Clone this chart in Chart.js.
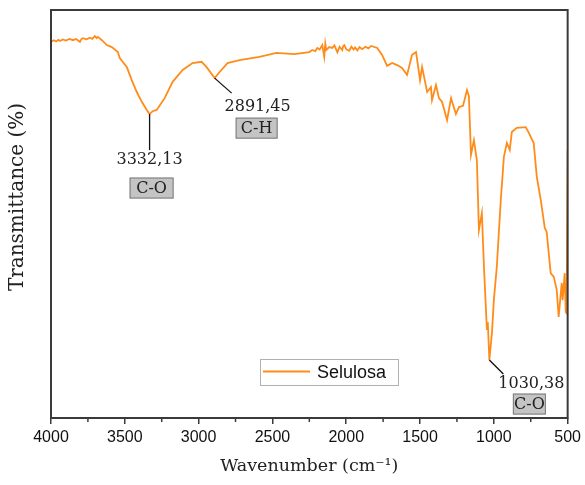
<!DOCTYPE html>
<html>
<head>
<meta charset="utf-8">
<script src="https://cdn.jsdelivr.net/npm/chart.js@4.4.1/dist/chart.umd.min.js"></script>
<style>
  body { margin: 0; background: #fff; }
  canvas { display: block; }
</style>
</head>
<body>
<canvas id="ftir" width="585" height="485"></canvas>
<script>
// FTIR spectrum of cellulose
const wavenumber = [
  4000, 3980, 3966, 3950, 3939, 3920, 3899, 3875, 3851, 3830,
  3804, 3795, 3784, 3760, 3736, 3720, 3703, 3690, 3682,
  3655, 3622, 3588, 3547, 3534, 3486, 3453, 3419, 3385, 3351,
  3332.13, 3311, 3284, 3230, 3176, 3108, 3041, 2980, 2946, 2891.45,
  2858, 2804, 2723, 2588, 2473, 2351, 2250, 2230, 2210, 2196,
  2180, 2162, 2155, 2149, 2142, 2135, 2115, 2095, 2080, 2060,
  2045, 2027, 2020, 2013, 2000, 1980, 1965, 1950, 1940, 1925,
  1910, 1892, 1870, 1850, 1831, 1790,
  1757, 1723, 1689, 1655, 1622, 1588, 1554, 1527, 1500, 1486,
  1452, 1426, 1419, 1392, 1372, 1351, 1317, 1290, 1257, 1236,
  1209, 1182, 1169, 1155, 1135, 1115, 1101, 1081, 1067, 1047,
  1041, 1030.38, 1013, 1000, 980, 953, 932, 912, 892, 878,
  845, 784, 763, 730, 709, 682, 655, 642, 615, 594,
  574, 561, 540, 534, 520, 513, 507, 500
];
const transmittance = [
  92.2, 92.6, 92.3, 92.7, 92.4, 92.8, 92.5, 92.9, 92.6, 92.9,
  92.2, 92.8, 93.1, 92.8, 93.2, 92.9, 93.6, 93.1, 93.4,
  92.6, 91.4, 90.9, 89.7, 88.2, 86.0, 82.8, 79.9, 77.5, 75.5,
  74.5, 75.2, 75.5, 78.4, 82.4, 85.3, 87.0, 87.3, 86.0, 83.3,
  84.8, 87.0, 87.7, 88.5, 89.5, 89.2, 89.7, 90.2, 89.9, 90.7,
  90.3, 91.4, 89.8, 88.5, 91.8, 90.2, 90.9, 90.7, 91.3, 89.6,
  91.0, 90.2, 91.2, 91.4, 90.4, 90.0, 91.0, 90.3, 90.8, 90.1,
  90.9, 90.4, 91.0, 90.6, 91.2, 90.7,
  89.0, 86.3, 87.0, 86.5, 85.8, 84.1, 89.0, 89.7, 82.8, 86.0,
  79.9, 81.1, 77.9, 81.6, 78.4, 77.5, 73.0, 78.4, 74.5, 76.2,
  76.5, 80.4, 78.9, 64.5, 68.1, 63.2, 46.1, 50.2, 37.0, 21.6,
  23.5, 14.2, 20.8, 28.9, 37.0, 53.4, 64.0, 67.4, 65.7, 70.1,
  71.1, 71.3, 69.9, 67.4, 59.1, 53.4, 46.6, 45.6, 35.5, 34.6,
  31.4, 24.8, 33.1, 28.9, 35.5, 26.0, 25.7, 65.7
];
const xTicks = [4000, 3500, 3000, 2500, 2000, 1500, 1000, 500];
const minorTicks = [3750, 3250, 2750, 2250, 1750, 1250, 750];

// labelled bands: wavenumber, bond, offsets of leader line end, value text and bond box
const peaks = [
  { wn: 3332.13, bond: 'C-O', line: [0, 36], text: [0, 46], box: [2, 74], w: 44 },
  { wn: 2891.45, bond: 'C-H', line: [17, 15], text: [43, 29], box: [42, 50], w: 42 },
  { wn: 1030.38, bond: 'C-O', line: [14, 14], text: [42, 24], box: [40, 44], w: 33 }
];

const serif = '"DejaVu Serif", serif';
const sans = '"Liberation Sans", Arial, sans-serif';

const points = wavenumber.map((w, i) => ({ x: w, y: transmittance[i] }));

const decorations = {
  id: 'decorations',
  afterDraw(chart) {
    const { ctx, chartArea: a, scales: { x, y } } = chart;
    ctx.save();

    // frame
    ctx.strokeStyle = '#3a3a3a';
    ctx.lineWidth = 2;
    ctx.strokeRect(a.left, a.top, a.right - a.left, a.bottom - a.top);

    // minor ticks
    ctx.lineWidth = 1.5;
    minorTicks.forEach(v => {
      const px = x.getPixelForValue(v);
      ctx.beginPath();
      ctx.moveTo(px, a.bottom);
      ctx.lineTo(px, a.bottom + 4);
      ctx.stroke();
    });

    // y axis title, sitting a little above the middle of the frame
    ctx.save();
    ctx.translate(18, 197);
    ctx.rotate(-Math.PI / 2);
    ctx.font = '20px ' + serif;
    ctx.fillStyle = '#222';
    ctx.textAlign = 'center';
    ctx.textBaseline = 'middle';
    ctx.fillText('Transmittance (%)', 0, 0);
    ctx.restore();

    // band labels
    peaks.forEach(p => {
      const i = wavenumber.indexOf(p.wn);
      const px = x.getPixelForValue(p.wn);
      const py = y.getPixelForValue(transmittance[i]);
      ctx.strokeStyle = '#111';
      ctx.lineWidth = 1.3;
      ctx.beginPath();
      ctx.moveTo(px, py);
      ctx.lineTo(px + p.line[0], py + p.line[1]);
      ctx.stroke();

      ctx.font = '16px ' + serif;
      ctx.fillStyle = '#222';
      ctx.textAlign = 'center';
      ctx.textBaseline = 'middle';
      ctx.fillText(p.wn.toFixed(2).replace('.', ','), px + p.text[0], py + p.text[1]);

      const bh = 21;
      const bx = px + p.box[0] - p.w / 2;
      const by = py + p.box[1] - bh / 2;
      ctx.fillStyle = '#c4c4c4';
      ctx.fillRect(bx, by, p.w, bh);
      ctx.strokeStyle = '#7a7a7a';
      ctx.lineWidth = 1;
      ctx.strokeRect(bx + 0.5, by + 0.5, p.w - 1, bh - 1);
      ctx.fillStyle = '#222';
      ctx.fillText(p.bond, px + p.box[0], py + p.box[1] + 1);
    });

    // legend box
    const ds = chart.data.datasets[0];
    const lx = a.left + 209, ly = a.top + 349, lw = 138, lh = 26;
    ctx.strokeStyle = '#b0b0b0';
    ctx.lineWidth = 1;
    ctx.strokeRect(lx + 0.5, ly + 0.5, lw, lh);
    ctx.strokeStyle = ds.borderColor;
    ctx.lineWidth = 2;
    ctx.beginPath();
    ctx.moveTo(lx + 3, ly + 12.5);
    ctx.lineTo(lx + 50, ly + 12.5);
    ctx.stroke();
    ctx.font = '18px ' + sans;
    ctx.fillStyle = '#111';
    ctx.textAlign = 'left';
    ctx.fillText(ds.label, lx + 57, ly + 14);

    ctx.restore();
  }
};

new Chart(document.getElementById('ftir'), {
  type: 'line',
  data: {
    datasets: [{
      label: 'Selulosa',
      data: points,
      borderColor: '#ff8c1a',
      borderWidth: 1.8,
      pointRadius: 0,
      tension: 0,
      fill: false
    }]
  },
  options: {
    responsive: false,
    animation: false,
    layout: { padding: { top: 10, right: 16, left: 0, bottom: 0 } },
    plugins: { legend: { display: false }, tooltip: { enabled: false } },
    scales: {
      x: {
        type: 'linear',
        reverse: true,
        min: 500,
        max: 4000,
        afterFit: s => { s.height = 67; },
        afterBuildTicks: s => { s.ticks = xTicks.map(v => ({ value: v })); },
        ticks: {
          color: '#111',
          font: { family: sans, size: 16 },
          padding: 4,
          maxRotation: 0,
          callback: v => String(v)
        },
        grid: { drawOnChartArea: false, drawTicks: true, tickLength: 6, color: '#3a3a3a', lineWidth: 1.5 },
        border: { display: false },
        title: {
          display: true,
          text: 'Wavenumber (cm\u207B\u00B9)',
          color: '#222',
          font: { family: serif, size: 17.5 },
          padding: { top: 0, bottom: 8 }
        }
      },
      y: {
        min: 0,
        max: 100,
        afterFit: s => { s.width = 51; },
        ticks: { display: false },
        grid: { display: false },
        border: { display: false },
        title: { display: false }
      }
    }
  },
  plugins: [decorations]
});
</script>
</body>
</html>
